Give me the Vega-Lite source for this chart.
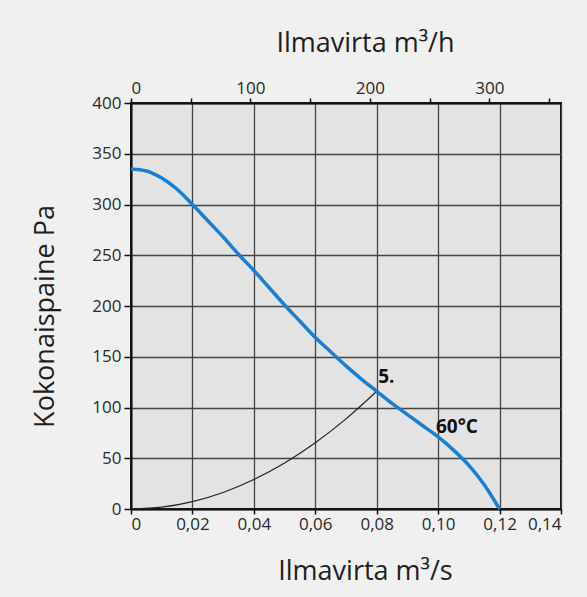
{
  "$schema": "https://vega.github.io/schema/vega-lite/v6.json",
  "width": 430,
  "height": 406,
  "autosize": {"type": "none"},
  "padding": {"left": 131, "top": 103, "right": 26, "bottom": 88},
  "background": "#f0f0f0",
  "config": {
    "font": "Open Sans",
    "view": {"fill": "#e3e3e3", "stroke": "#111111", "strokeWidth": 2},
    "axis": {
      "labelFont": "Open Sans",
      "titleFont": "Open Sans",
      "labelFontSize": 17,
      "labelColor": "#2a2a2a",
      "titleColor": "#1e1e1e",
      "titleFontSize": 27,
      "titleFontWeight": "normal",
      "domainColor": "#111111",
      "domainWidth": 2,
      "tickColor": "#111111",
      "tickWidth": 1.5,
      "tickSize": 5,
      "gridColor": "#444444",
      "gridWidth": 1.3,
      "gridOpacity": 1
    }
  },
  "datasets": {
    "curves": [
      {"q": 0.0, "p": 335, "s": "60C"},
      {"q": 0.005, "p": 333, "s": "60C"},
      {"q": 0.01, "p": 326, "s": "60C"},
      {"q": 0.015, "p": 315, "s": "60C"},
      {"q": 0.02, "p": 300, "s": "60C"},
      {"q": 0.025, "p": 284, "s": "60C"},
      {"q": 0.03, "p": 268, "s": "60C"},
      {"q": 0.035, "p": 251, "s": "60C"},
      {"q": 0.04, "p": 235, "s": "60C"},
      {"q": 0.045, "p": 218, "s": "60C"},
      {"q": 0.05, "p": 201, "s": "60C"},
      {"q": 0.055, "p": 185, "s": "60C"},
      {"q": 0.06, "p": 169, "s": "60C"},
      {"q": 0.065, "p": 155, "s": "60C"},
      {"q": 0.07, "p": 141, "s": "60C"},
      {"q": 0.075, "p": 128, "s": "60C"},
      {"q": 0.08, "p": 116, "s": "60C"},
      {"q": 0.085, "p": 104, "s": "60C"},
      {"q": 0.09, "p": 93, "s": "60C"},
      {"q": 0.095, "p": 82, "s": "60C"},
      {"q": 0.1, "p": 71, "s": "60C"},
      {"q": 0.105, "p": 58, "s": "60C"},
      {"q": 0.11, "p": 43, "s": "60C"},
      {"q": 0.115, "p": 24, "s": "60C"},
      {"q": 0.12, "p": 0, "s": "60C"},
      {"q": 0.0, "p": 0, "s": "sys"},
      {"q": 0.01, "p": 1.8, "s": "sys"},
      {"q": 0.02, "p": 7.3, "s": "sys"},
      {"q": 0.03, "p": 16.3, "s": "sys"},
      {"q": 0.04, "p": 29, "s": "sys"},
      {"q": 0.05, "p": 45.3, "s": "sys"},
      {"q": 0.06, "p": 65.3, "s": "sys"},
      {"q": 0.07, "p": 88.8, "s": "sys"},
      {"q": 0.08, "p": 116, "s": "sys"}
    ],
    "labels": [
      {"q": 0.0805, "p": 130, "t": "5."},
      {"q": 0.0993, "p": 81, "t": "60°C"}
    ],
    "top": [
      {"h": 0, "p": 0},
      {"h": 360, "p": 0}
    ]
  },
  "layer": [
    {
      "layer": [
        {
          "data": {"name": "curves"},
          "transform": [{"filter": "datum.s == 'sys'"}],
          "mark": {"type": "line", "color": "#222222", "strokeWidth": 1.2, "interpolate": "monotone"},
          "encoding": {
            "x": {
              "field": "q", "type": "quantitative",
              "scale": {"domain": [0, 0.14], "nice": false, "zero": false},
              "axis": {
                "orient": "bottom",
                "values": [0, 0.02, 0.04, 0.06, 0.08, 0.1, 0.12, 0.14],
                "labelExpr": "datum.value == 0 ? '0' : replace(format(datum.value, '.2f'), '.', ',')",
                "title": "Ilmavirta m³/s",
                "titlePadding": 26,
                "titleX": 234,
                "labelPadding": 2
              }
            },
            "y": {
              "field": "p", "type": "quantitative",
              "scale": {"domain": [0, 400], "nice": false},
              "axis": {
                "values": [0, 50, 100, 150, 200, 250, 300, 350, 400],
                "title": "Kokonaispaine Pa",
                "titlePadding": 32,
                "titleY": 213,
                "tickSize": 7,
                "labelPadding": 3
              }
            }
          }
        },
        {
          "data": {"name": "curves"},
          "transform": [{"filter": "datum.s == '60C'"}],
          "mark": {"type": "line", "color": "#1a7fd0", "strokeWidth": 3.5, "interpolate": "monotone"},
          "encoding": {
            "x": {"field": "q", "type": "quantitative"},
            "y": {"field": "p", "type": "quantitative"}
          }
        },
        {
          "data": {"name": "labels"},
          "mark": {"type": "text", "align": "left", "baseline": "middle", "fontSize": 19, "fontWeight": "bold", "color": "#111111", "font": "Open Sans"},
          "encoding": {
            "x": {"field": "q", "type": "quantitative"},
            "y": {"field": "p", "type": "quantitative"},
            "text": {"field": "t"}
          }
        }
      ]
    },
    {
      "data": {"name": "top"},
      "mark": {"type": "point", "opacity": 0},
      "encoding": {
        "x": {
          "field": "h", "type": "quantitative",
          "scale": {"domain": [0, 360], "nice": false, "zero": false},
          "axis": {
            "orient": "top",
            "grid": false,
            "values": [0, 50, 100, 150, 200, 250, 300, 350],
            "labelExpr": "datum.value % 100 == 0 ? datum.label : ''",
            "title": "Ilmavirta m³/h",
            "titlePadding": 22,
            "titleX": 234,
            "labelPadding": 1
          }
        },
        "y": {"field": "p", "type": "quantitative"}
      }
    }
  ],
  "resolve": {"scale": {"x": "independent"}}
}
